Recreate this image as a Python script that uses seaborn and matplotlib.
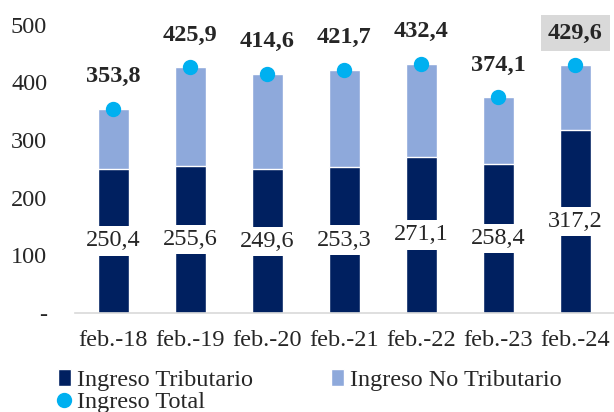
import pandas as pd
import matplotlib.pyplot as plt
import seaborn as sns

periodos = ["feb.-18", "feb.-19", "feb.-20", "feb.-21", "feb.-22", "feb.-23", "feb.-24"]
tributario = [250.4, 255.6, 249.6, 253.3, 271.1, 258.4, 317.2]
total = [353.8, 425.9, 414.6, 421.7, 432.4, 374.1, 429.6]

df = pd.DataFrame({"Periodo": periodos, "Tributario": tributario, "Total": total})

def fmt(v):
    return f"{v:.1f}".replace(".", ",")

sns.set_style("white")
plt.rcParams["font.family"] = ["Liberation Serif", "DejaVu Serif"]
FS = 17.5

fig = plt.figure(figsize=(6.14, 4.12), dpi=100)
ax = fig.add_axes([0.122, 0.24, 0.878, 0.70])

# stacked bars: total (light) underneath, tributario (dark) on top of it
sns.barplot(data=df, x="Periodo", y="Total", color="#8EA9DB", saturation=1,
            width=0.4, ax=ax, label="Ingreso No Tributario")
sns.barplot(data=df, x="Periodo", y="Tributario", color="#002060", saturation=1,
            width=0.4, ax=ax, label="Ingreso Tributario")
sns.pointplot(data=df, x="Periodo", y="Total", color="#00B0F0", linestyle="none",
              markers="o", markersize=9, ax=ax, label="Ingreso Total")

for i, (t, tot) in enumerate(zip(tributario, total)):
    ax.text(i, t / 2, fmt(t), ha="center", va="center", fontsize=FS,
            bbox=dict(facecolor="white", edgecolor="none", pad=3))
    box = dict(facecolor="#D9D9D9", edgecolor="none", pad=5) if i == len(total) - 1 else None
    ax.text(i, tot + 56, fmt(tot), ha="center", va="center", fontsize=FS,
            fontweight="bold", bbox=box, clip_on=False)

ax.set_ylim(0, 500)
ax.set_xlim(-0.5, 6.5)
ax.set_yticks([0, 100, 200, 300, 400, 500])
ax.set_yticklabels(["-", "100", "200", "300", "400", "500"])
ax.set_xlabel("")
ax.set_ylabel("")
ax.tick_params(axis="both", labelsize=FS, length=0)
ax.tick_params(axis="x", pad=12)
ax.tick_params(axis="y", pad=20)
ax.set_xticks([x - 0.5 for x in range(8)], minor=True)
ax.tick_params(axis="x", which="minor", length=6, color="#D9D9D9", width=1.2, direction="out")
for s in ["left", "top", "right"]:
    ax.spines[s].set_visible(False)
ax.spines["bottom"].set_color("#D9D9D9")
ax.spines["bottom"].set_linewidth(1.2)

h, l = ax.get_legend_handles_labels()
lookup = dict(zip(l, h))
order = ["Ingreso Tributario", "Ingreso Total", "Ingreso No Tributario"]
ax.legend([lookup[k] for k in order], order, ncol=2, loc="upper left",
          bbox_to_anchor=(-0.05, -0.16), frameon=False, fontsize=FS,
          handlelength=0.55, handletextpad=0.25, columnspacing=3.2,
          labelspacing=0.0, borderaxespad=0)

fig.savefig("out.png", dpi=100)
